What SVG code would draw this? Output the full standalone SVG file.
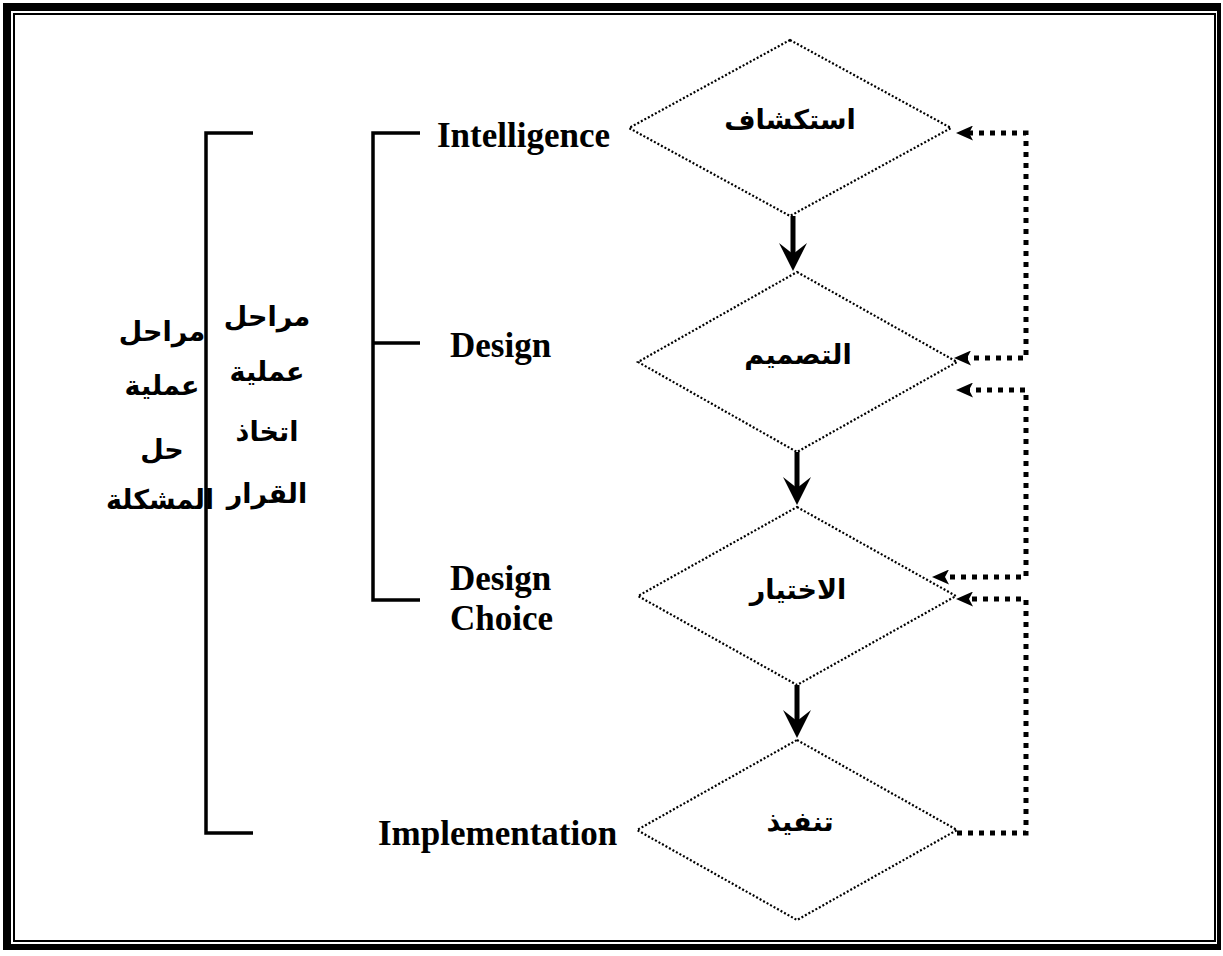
<svg xmlns="http://www.w3.org/2000/svg" width="1223" height="956" viewBox="0 0 1223 956">
<style>
.dia{fill:none;stroke:#000;stroke-width:2.2;stroke-dasharray:2 2}
.en{font-family:"Liberation Serif","Times New Roman",serif;font-weight:bold;font-size:35px;fill:#000}
.ar{font-family:"DejaVu Sans",sans-serif;font-weight:bold;font-size:27px;fill:#000;text-anchor:middle}
.br{fill:none;stroke:#000;stroke-width:3.5}
.dot{fill:none;stroke:#000;stroke-width:5;stroke-dasharray:5 6}
.sol{fill:none;stroke:#000;stroke-width:5}
</style>
<defs>
<marker id="dh" markerUnits="userSpaceOnUse" markerWidth="17" markerHeight="15" viewBox="0 0 17 15" refX="8" refY="7.5" orient="auto-start-reverse">
<path d="M17,7.5 L0,0 L4,7.5 L0,15 Z" fill="#000"/>
</marker>
<marker id="sh" markerUnits="userSpaceOnUse" markerWidth="28" markerHeight="28" viewBox="0 0 28 28" refX="14" refY="14" orient="auto">
<path d="M28,14 L0,0 L11,14 L0,28 Z" fill="#000"/>
</marker>
</defs>
<rect width="1223" height="956" fill="#fff"/>
<g id="frame">
<path d="M3,3 H1221 V950 H3 Z M11,11 V944 H1217 V11 Z" fill="#000" fill-rule="evenodd"/>
<rect x="14" y="14" width="1201" height="927" fill="none" stroke="#000" stroke-width="2"/>
</g>
<g id="brackets">
<path class="br" d="M253,133 H206 V833 H253"/>
<path class="br" d="M420,133 H373 V600 H420 M373,343 H420"/>
</g>
<g id="label-problem">
<text class="ar" x="162" y="341">مراحل</text>
<text class="ar" x="162" y="395">عملية</text>
<text class="ar" x="162" y="459">حل</text>
<text class="ar" x="160" y="509">المشكلة</text>
</g>
<g id="label-decision">
<text class="ar" x="267" y="326">مراحل</text>
<text class="ar" x="267" y="381">عملية</text>
<text class="ar" x="267" y="441">اتخاذ</text>
<text class="ar" x="267" y="503">القرار</text>
</g>
<g id="node-intelligence">
<polygon class="dia" points="790,40 951,128 790,216 629,128"/>
<text class="ar" x="790" y="129">استكشاف</text>
<text class="en" x="437" y="147">Intelligence</text>
</g>
<g id="node-design">
<polygon class="dia" points="797,272 957,362 797,452 638,362"/>
<text class="ar" x="798" y="364">التصميم</text>
<text class="en" x="450" y="357">Design</text>
</g>
<g id="node-choice">
<polygon class="dia" points="797,507 956,596 797,685 638,596"/>
<text class="ar" x="798" y="599">الاختيار</text>
<text class="en" x="450" y="590">Design</text>
<text class="en" x="450" y="630">Choice</text>
</g>
<g id="node-implementation">
<polygon class="dia" points="797,740 957,830 797,920 637,830"/>
<text class="ar" x="800" y="831">تنفيذ</text>
<text class="en" x="378" y="845">Implementation</text>
</g>
<g id="connectors">
<line class="sol" x1="793" y1="216" x2="793" y2="257" marker-end="url(#sh)"/>
<line class="sol" x1="797" y1="452" x2="797" y2="491" marker-end="url(#sh)"/>
<line class="sol" x1="797" y1="685" x2="797" y2="724" marker-end="url(#sh)"/>
<path class="dot" d="M963,358 H1026 V133 H965" marker-start="url(#dh)" marker-end="url(#dh)"/>
<path class="dot" d="M965,390 H1026 V577 H941" marker-start="url(#dh)" marker-end="url(#dh)"/>
<path class="dot" d="M957,833 H1026 V599 H965" marker-end="url(#dh)"/>
</g>
</svg>
